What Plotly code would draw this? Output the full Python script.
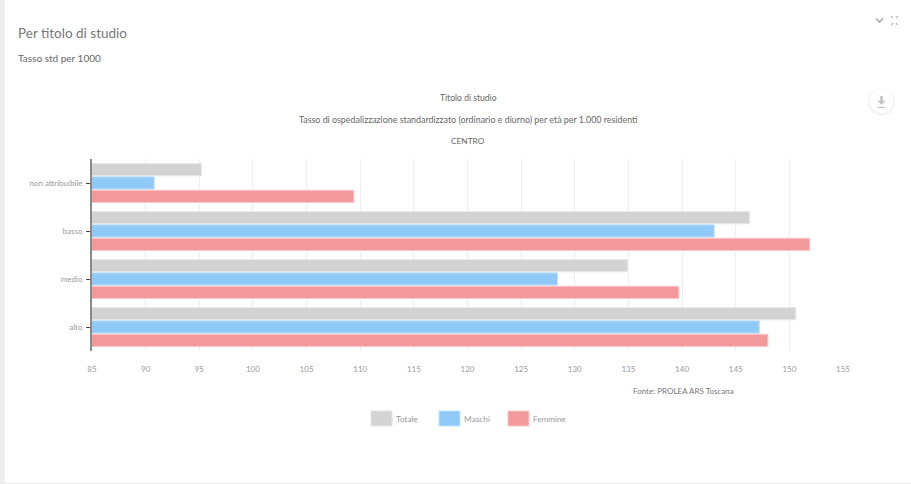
import plotly.graph_objects as go

W, H = 911, 484

categories = ["non attribuibile", "basso", "medio", "alto"]
totale = [95.2, 146.3, 134.9, 150.6]
maschi = [90.8, 143.0, 128.4, 147.2]
femmine = [109.4, 151.9, 139.7, 148.0]
x_ticks = list(range(85, 160, 5))

FONT = "Lato"
GREY, BLUE, RED = "#d3d3d3", "#90caf9", "#f4999b"


def fx(px):
    return px / W


def fy(py):
    return 1 - py / H


def text(px, py, s, size, color="#777777", anchor="center"):
    return dict(text=s, x=fx(px), y=fy(py), xref="paper", yref="paper", showarrow=False,
                xanchor=anchor, yanchor="middle", borderpad=0, borderwidth=0,
                font=dict(family=FONT, size=size, color=color))


def rect(x0, y0, x1, y1, fill, line=None, layer="above"):
    return dict(type="rect", xref="paper", yref="paper", x0=fx(x0), x1=fx(x1), y0=fy(y0), y1=fy(y1),
                fillcolor=fill, line=dict(color=line or fill, width=1 if line else 0), layer=layer)


def path(points, color, width=1.5, close=False, fill=None):
    d = "M" + "L".join(f"{fx(a):.5f},{fy(b):.5f}" for a, b in points) + ("Z" if close else "")
    return dict(type="path", path=d, xref="paper", yref="paper",
                line=dict(color=color, width=width), fillcolor=fill)


def circle(cx, cy, r, fill):
    return dict(type="circle", xref="paper", yref="paper", x0=fx(cx - r), x1=fx(cx + r),
                y0=fy(cy + r * 1.0), y1=fy(cy - r * 1.0), fillcolor=fill, line=dict(width=0))


fig = go.Figure()
for name, values, color, edge in [("Totale", totale, GREY, "#e6e6e6"),
                                  ("Maschi", maschi, BLUE, "#c4e2fb"),
                                  ("Femmine", femmine, RED, "#fac8c9")]:
    fig.add_bar(name=name, y=categories, x=values, orientation="h", base=0,
                marker=dict(color=color, line=dict(color=edge, width=1)))

shapes = [
    rect(0, 0, 5, H, "#eeeeee", layer="below"),
    rect(0, 482.5, W, H, "#eeeeee", layer="below"),
    # card controls: collapse chevron and expand arrows
    path([(876, 18.5), (879.5, 22), (883, 18.5)], "#aaaaaa", 1.6),
    path([(891, 16), (893, 18)], "#bbbbbb", 1.3), path([(898, 16), (896, 18)], "#bbbbbb", 1.3),
    path([(891, 25), (893, 23)], "#bbbbbb", 1.3), path([(898, 25), (896, 23)], "#bbbbbb", 1.3),
    # download button
    circle(881.5, 102, 13.5, "#f3f3f3"),
    circle(881.5, 101, 12, "#ffffff"),
    path([(881.5, 96), (881.5, 101)], "#c4c4c4", 2.5),
    path([(878.5, 101), (884.5, 101), (881.5, 104.5)], "#c4c4c4", 1, True, "#c4c4c4"),
    path([(878, 107.5), (885, 107.5)], "#c4c4c4", 1.3),
    # legend swatches
    rect(371, 411, 392, 426, GREY, "#e3e3e3"),
    rect(439, 411, 460, 426, BLUE, "#c4e2fb"),
    rect(508, 411, 529, 426, RED, "#fac8c9"),
]

annotations = [
    text(18, 33, "Per titolo di studio", 13.5, "#777777", "left"),
    text(18, 58, "Tasso std per 1000", 10, "#666666", "left"),
    text(468, 98, "Titolo di studio", 8.6, "#666666"),
    text(468, 119, "Tasso di ospedalizzazione standardizzato (ordinario e diurno) per età per 1.000 residenti", 8.9, "#666666"),
    text(468, 141, "CENTRO", 8.3, "#666666"),
    text(734, 391, "Fonte: PROLEA ARS Toscana", 8, "#777777", "right"),
    text(396, 419, "Totale", 8.3, "#999999", "left"),
    text(464, 419, "Maschi", 8.3, "#999999", "left"),
    text(533, 419, "Femmine", 8.2, "#999999", "left"),
]

fig.update_layout(
    width=W, height=H, autosize=False,
    margin=dict(l=0, r=0, t=0, b=0),
    paper_bgcolor="#ffffff", plot_bgcolor="#ffffff",
    barmode="group", bargap=0.165, bargroupgap=0.08,
    showlegend=False,
    font=dict(family=FONT, size=8, color="#999999"),
    shapes=shapes, annotations=annotations,
    xaxis=dict(domain=[fx(92), fx(843)], range=[85, 155], tickvals=x_ticks, ticks="",
               showgrid=True, gridcolor="#eeeeee", gridwidth=1, zeroline=False,
               showline=False, ticklabelstandoff=12, automargin=False),
    yaxis=dict(domain=[fy(351), fy(159)], autorange="reversed", ticks="outside", ticklen=4,
               tickcolor="#444444", tickwidth=1, showline=True, linecolor="#8a8a8a", linewidth=1.8,
               showgrid=False, automargin=False, ticklabelstandoff=2),
)

fig.write_html("out.html", config=dict(displayModeBar=False))
